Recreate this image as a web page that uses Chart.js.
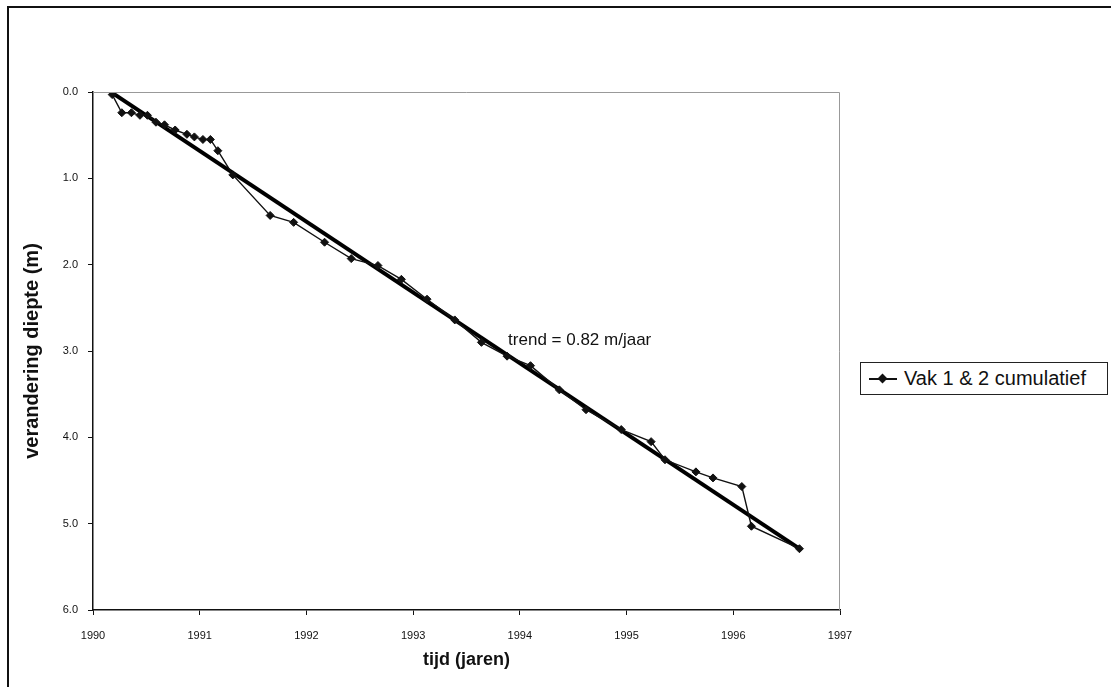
<!DOCTYPE html>
<html>
<head>
<meta charset="utf-8">
<script src="https://cdn.jsdelivr.net/npm/chart.js@4.4.0/dist/chart.umd.min.js"></script>
<style>
  body { margin: 0; background: #fff; font-family: "Liberation Sans", Arial, sans-serif; }
  #wrap { position: relative; width: 1111px; height: 687px; overflow: hidden; }
  #frame { position: absolute; left: 7px; top: 6px; width: 1120px; height: 700px; border: 2px solid #111; }
  #legend { position: absolute; left: 860px; top: 362px; width: 246px; height: 31px; border: 1px solid #222;
            display: flex; align-items: center; font-size: 20px; color: #111; background: #fff; }
  #legend .mark { position: relative; width: 28px; height: 2px; background: #111; margin: 0 7px 0 8px; }
  #legend .mark::after { content: ""; position: absolute; left: 10px; top: -3px; width: 7px; height: 7px;
                         background: #111; transform: rotate(45deg); }
  canvas { position: absolute; left: 0; top: 0; }
</style>
</head>
<body>
<div id="wrap">
  <div id="frame"></div>
  <canvas id="chart" width="1111" height="687"></canvas>
  <div id="legend"></div>
</div>
<script>
// measured series: time (years) and cumulative depth change (m)
var jaren = [1990.18, 1990.27, 1990.36, 1990.44, 1990.51, 1990.59, 1990.67, 1990.77, 1990.88, 1990.95,
             1991.03, 1991.10, 1991.17, 1991.31, 1991.66, 1991.88, 1992.17, 1992.42, 1992.67, 1992.89,
             1993.13, 1993.39, 1993.64, 1993.88, 1994.10, 1994.37, 1994.62, 1994.95, 1995.23, 1995.36,
             1995.65, 1995.81, 1996.08, 1996.17, 1996.62];
var diepte = [0.03, 0.24, 0.24, 0.27, 0.27, 0.35, 0.38, 0.44, 0.49, 0.52,
              0.55, 0.55, 0.68, 0.96, 1.43, 1.51, 1.74, 1.93, 2.01, 2.17,
              2.40, 2.64, 2.90, 3.06, 3.17, 3.45, 3.68, 3.91, 4.05, 4.26,
              4.40, 4.47, 4.57, 5.03, 5.29];

// trend line end points
var trendJaren = [1990.18, 1996.62];
var trendDiepte = [0.01, 5.29];
var trendTekst = 'trend = 0.82 m/jaar';

var xTicks = [1990, 1991, 1992, 1993, 1994, 1995, 1996, 1997];
var yTicks = [0, 1, 2, 3, 4, 5, 6];

var serieNaam = 'Vak 1 & 2 cumulatief';

function pts(xs, ys) {
    return xs.map(function (x, i) { return { x: x, y: ys[i] }; });
}

// thin border round the plot area + trend text
var extras = {
    id: 'extras',
    afterDraw: function (chart) {
        var a = chart.chartArea, ctx = chart.ctx;
        ctx.save();
        ctx.strokeStyle = '#999';
        ctx.lineWidth = 1;
        ctx.beginPath();
        ctx.moveTo(a.left, a.top + 0.5);
        ctx.lineTo(a.right - 0.5, a.top + 0.5);
        ctx.lineTo(a.right - 0.5, a.bottom);
        ctx.stroke();
        ctx.fillStyle = '#111';
        ctx.font = '17px "Liberation Sans", Arial, sans-serif';
        ctx.textBaseline = 'middle';
        ctx.fillText(trendTekst, chart.scales.x.getPixelForValue(1993.89), chart.scales.y.getPixelForValue(2.88));
        ctx.restore();
    }
};

var ctx = document.getElementById('chart');
var chart = new Chart(ctx, {
    type: 'scatter',
    data: {
        datasets: [
            {
                label: serieNaam,
                data: pts(jaren, diepte),
                showLine: true,
                borderColor: '#111',
                backgroundColor: '#111',
                borderWidth: 1.4,
                pointStyle: 'rectRot',
                pointRadius: 4,
                pointBorderWidth: 1
            },
            {
                label: 'trend',
                data: pts(trendJaren, trendDiepte),
                showLine: true,
                borderColor: '#000',
                borderWidth: 4,
                pointRadius: 0
            }
        ]
    },
    options: {
        responsive: false,
        animation: false,
        layout: { padding: { top: 92, right: 271, left: 0, bottom: 0 } },
        plugins: {
            legend: { display: false },
            tooltip: { enabled: false }
        },
        scales: {
            x: {
                type: 'linear',
                min: 1990,
                max: 1997,
                afterBuildTicks: function (s) { s.ticks = xTicks.map(function (v) { return { value: v }; }); },
                afterFit: function (s) { s.height = 77; },
                grid: { drawOnChartArea: false, color: '#111', tickLength: 5 },
                border: { color: '#111', width: 1.5 },
                ticks: {
                    color: '#111',
                    padding: 14,
                    font: { family: '"Liberation Sans", Arial, sans-serif', size: 11 },
                    callback: function (v) { return String(v); }
                },
                title: {
                    display: true,
                    text: 'tijd (jaren)',
                    color: '#111',
                    padding: { top: 4, bottom: 16 },
                    font: { family: '"Liberation Sans", Arial, sans-serif', size: 18, weight: 'bold' }
                }
            },
            y: {
                type: 'linear',
                reverse: true,
                min: 0,
                max: 6,
                afterBuildTicks: function (s) { s.ticks = yTicks.map(function (v) { return { value: v }; }); },
                afterFit: function (s) { s.width = 93; },
                grid: { drawOnChartArea: false, color: '#111', tickLength: 5 },
                border: { color: '#111', width: 1.5 },
                ticks: {
                    color: '#111',
                    padding: 10,
                    font: { family: '"Liberation Sans", Arial, sans-serif', size: 11 },
                    callback: function (v) { return v.toFixed(1); }
                },
                title: {
                    display: true,
                    text: 'verandering diepte (m)',
                    color: '#111',
                    padding: { top: 20, bottom: 0 },
                    font: { family: '"Liberation Sans", Arial, sans-serif', size: 20, weight: 'bold' }
                }
            }
        }
    },
    plugins: [extras]
});

// html legend from the first dataset
var lg = document.getElementById('legend');
lg.innerHTML = '<span class="mark"></span><span>' + chart.data.datasets[0].label.replace('&', '&amp;') + '</span>';
</script>
</body>
</html>
